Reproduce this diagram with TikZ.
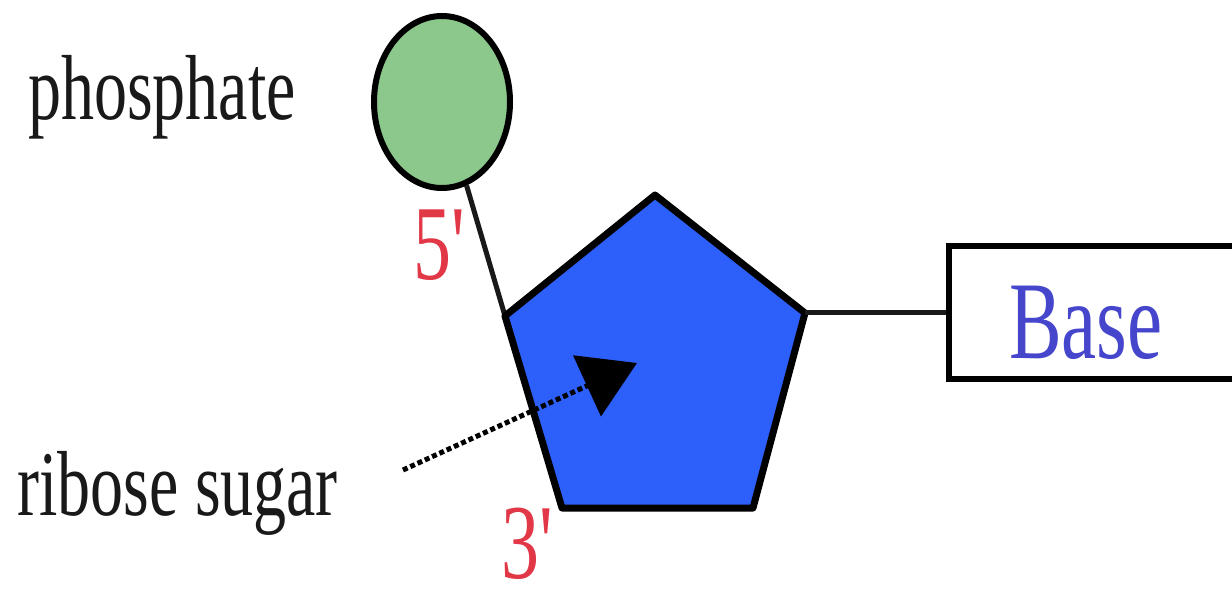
\documentclass[tikz,border=0pt]{standalone}
\usepackage{fontspec}
\usepackage{graphicx}
\setmainfont{Liberation Serif}
\usetikzlibrary{shapes.geometric,arrows.meta}

\definecolor{phosgreen}{RGB}{140,200,140}
\definecolor{sugarblue}{RGB}{45,95,250}
\definecolor{primered}{RGB}{225,55,70}
\definecolor{baseblue}{RGB}{70,70,205}

% the source image is stretched upright
\newcommand{\tallText}[1]{\scalebox{1}[1.4]{#1}}

\begin{document}
\begin{tikzpicture}[x=1pt,y=-1pt,
    phos/.style={ellipse,draw,fill=phosgreen,line width=6pt,minimum width=136pt,minimum height=172pt},
    sugar/.style={draw,fill=sugarblue,line width=7pt,line join=round},
    basebox/.style={rectangle,draw,fill=white,line width=6pt,minimum height=133pt,text width=240pt,
      inner xsep=60pt,inner ysep=0pt,text height=100pt,text depth=9pt,align=left,
      font=\fontsize{79}{80}\selectfont,text=baseblue,anchor=west},
    word/.style={inner sep=0pt,anchor=base west,font=\fontsize{66}{70}\selectfont,text=black!90},
    prime/.style={inner sep=0pt,anchor=base west,font=\fontsize{76}{78}\selectfont,text=primered},
    link/.style={line width=5pt,black!90},
    pointer/.style={line width=5pt,black,dash pattern=on 5pt off 3pt,-{Triangle[length=55pt,width=66pt]}}]

\useasboundingbox (0,0) rectangle (1232,593);
\clip (0,0) rectangle (1232,593);

% phosphate and its label
\node[word] (phoslabel) at (28,120) {\tallText{phosphate}};
\node[phos] (phos) at (442,102) {};

% ribose ring
\coordinate (pT) at (655,195);
\coordinate (pR) at (805,313);
\coordinate (pBR) at (753,508);
\coordinate (pBL) at (562,508);
\coordinate (pL) at (505,316);

\draw[link] (phos) -- (pL);
\draw[sugar] (pT) -- (pR) -- (pBR) -- (pBL) -- (pL) -- cycle;

% base
\node[basebox] (base) at (946,313) {\tallText{Base}};
\draw[link] (pR) -- (base.west);

% labels
\node[prime] (five) at (413,280) {\tallText{5\textquotesingle}};
\node[prime] (three) at (501,578) {\tallText{3\textquotesingle}};
\node[word] (riblabel) at (17,515) {\tallText{ribose sugar}};

\coordinate (tail) at (403,470);
\coordinate (tip) at (637,363);
\draw[pointer] (tail) -- (tip);
\end{tikzpicture}
\end{document}
